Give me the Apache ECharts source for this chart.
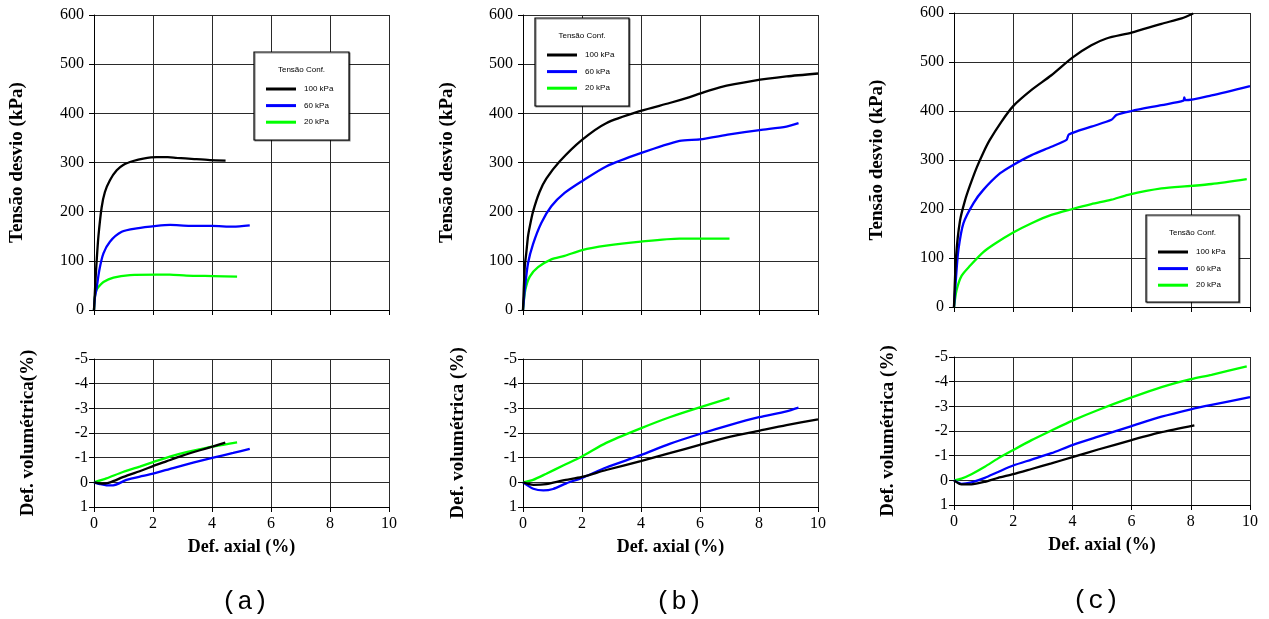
<!DOCTYPE html>
<html>
<head>
<meta charset="utf-8">
<script src="https://cdn.jsdelivr.net/npm/echarts@6/dist/echarts.min.js"></script>
<style>
  html, body { margin: 0; padding: 0; background: #fff; }
  #chart { width: 1269px; height: 619px; }
</style>
</head>
<body>
<div id="chart"></div>
<script>
// Confining pressures (legend entries) and line colours
const pressures = ['100 kPa', '60 kPa', '20 kPa'];
const lineColors = ['#000000', '#0000ff', '#00ff00'];
const panelLabels = ['(a)', '(b)', '(c)'];

// Axis ticks
const axialTicks = [0, 2, 4, 6, 8, 10];
const stressTicks = [0, 100, 200, 300, 400, 500, 600];
const volTicks = [-5, -4, -3, -2, -1, 0, 1];

// Panel (a): [axial strain %, deviator stress kPa]
const a_dev_100 = [[0,0],[0.05,60],[0.09,100],[0.15,150],[0.26,209],[0.37,240],[0.54,264],[0.77,284],[0.99,295],[1.33,303],[1.67,308],[2.12,311],[2.5,311],[2.8,309.5],[3.4,307],[3.93,305],[4.46,304]];
const a_dev_60 = [[0,0],[0.03,25],[0.09,45],[0.18,81],[0.32,115],[0.54,139],[0.94,159],[1.45,166],[2.12,171],[2.58,173],[3.25,171],[4.0,171],[4.72,169.5],[5.28,172]];
const a_dev_20 = [[0,0],[0.03,27],[0.08,40],[0.15,47],[0.32,57],[0.66,66],[1.22,71],[2.12,72],[2.57,72],[3.13,70],[4.04,69],[4.85,68]];
// Panel (a): [axial strain %, volumetric strain %]
const a_vol_100 = [[0,0],[0.3,0.05],[0.55,0],[1.0,-0.22],[1.66,-0.5],[2.0,-0.66],[2.45,-0.85],[3.0,-1.08],[3.59,-1.3],[4.04,-1.46],[4.45,-1.61]];
const a_vol_60 = [[0,0],[0.2,0.07],[0.42,0.12],[0.65,0.12],[1.1,-0.1],[1.66,-0.26],[2.0,-0.35],[2.68,-0.58],[3.36,-0.8],[4.04,-1.0],[4.72,-1.19],[5.28,-1.36]];
const a_vol_20 = [[0,0],[0.42,-0.16],[0.98,-0.42],[1.55,-0.64],[2.0,-0.82],[2.57,-1.04],[3.13,-1.22],[3.81,-1.4],[4.38,-1.52],[4.85,-1.62]];

// Panel (b)
const b_dev_100 = [[0,0],[0.06,88],[0.11,115],[0.17,150],[0.23,170],[0.34,200],[0.56,240],[0.79,267],[1.24,302],[2.0,346],[2.82,380],[3.99,405],[4.97,421],[5.65,433],[5.99,440],[6.67,453],[7.8,466],[8.93,475],[10,481]];
const b_dev_60 = [[0,0],[0.06,41],[0.17,95],[0.34,134],[0.62,177],[0.96,211],[1.41,238],[2.0,262],[2.82,292],[3.99,319],[5.31,344],[5.99,347],[7.0,357],[8.02,366],[8.93,373],[9.34,380]];
const b_dev_20 = [[0,0],[0.08,41],[0.23,68],[0.51,87],[0.96,103],[1.41,110],[2.0,122],[2.82,131],[3.99,139],[5.31,145],[5.99,145],[7.0,145]];
const b_vol_100 = [[0,0],[0.35,0.1],[0.79,0.07],[1.36,-0.08],[2.0,-0.22],[2.82,-0.5],[3.99,-0.86],[4.97,-1.18],[5.99,-1.52],[7.0,-1.84],[8.0,-2.09],[8.93,-2.32],[10,-2.55]];
const b_vol_60 = [[0,0],[0.35,0.26],[0.69,0.33],[1.02,0.27],[1.47,0.04],[2.0,-0.18],[2.82,-0.6],[3.99,-1.1],[4.97,-1.56],[5.99,-1.96],[7.0,-2.32],[8.0,-2.64],[8.93,-2.88],[9.34,-3.03]];
const b_vol_20 = [[0,0],[0.34,-0.1],[0.79,-0.35],[1.36,-0.68],[2.0,-1.05],[2.82,-1.6],[3.99,-2.19],[4.97,-2.64],[5.99,-3.04],[7.0,-3.41]];

// Panel (c)
const c_dev_100 = [[0,0],[0.07,103],[0.2,175],[0.37,217],[0.54,248],[0.77,285],[0.99,315],[1.2,340],[1.6,378],[2.0,410],[2.62,443],[3.29,473],[4.0,509],[4.64,534],[5.15,548],[6.0,560],[7.01,578],[7.69,589],[8.08,599]];
const c_dev_60 = [[0,0],[0.07,62],[0.15,117],[0.32,171],[0.66,212],[0.99,239],[1.56,273],[2.0,290],[2.62,310],[3.29,327],[3.8,341],[3.88,352],[4.64,368],[5.32,382],[5.49,392],[6.0,400],[7.01,412],[7.75,421],[7.78,428],[7.82,422],[8.7,432],[10,451]];
const c_dev_20 = [[0,0],[0.09,35],[0.26,64],[0.54,84],[0.99,112],[1.38,129],[2.0,152],[2.62,171],[3.29,188],[4.0,200],[4.64,210],[5.32,219],[5.88,229],[7.01,242],[8.0,247],[8.7,251],[9.89,261]];
const c_vol_100 = [[0,0],[0.25,0.16],[0.59,0.16],[1.04,0.06],[1.49,-0.1],[2.0,-0.25],[2.62,-0.46],[3.29,-0.69],[4.0,-0.94],[4.87,-1.25],[6.0,-1.63],[7.01,-1.95],[8.12,-2.23]];
const c_vol_60 = [[0,0],[0.25,0.14],[0.59,0.08],[1.04,-0.1],[1.49,-0.34],[2.0,-0.6],[2.62,-0.84],[3.29,-1.1],[4.0,-1.43],[4.87,-1.77],[6.0,-2.2],[7.01,-2.58],[8.0,-2.88],[8.7,-3.06],[10,-3.37]];
const c_vol_20 = [[0,0],[0.25,-0.07],[0.59,-0.25],[1.04,-0.55],[1.49,-0.89],[2.0,-1.23],[2.62,-1.63],[3.29,-2.02],[4.0,-2.42],[4.87,-2.85],[6.0,-3.36],[7.01,-3.78],[8.0,-4.1],[8.7,-4.28],[9.89,-4.62]];

const devSets = [[a_dev_100, a_dev_60, a_dev_20], [b_dev_100, b_dev_60, b_dev_20], [c_dev_100, c_dev_60, c_dev_20]];
const volSets = [[a_vol_100, a_vol_60, a_vol_20], [b_vol_100, b_vol_60, b_vol_20], [c_vol_100, c_vol_60, c_vol_20]];

// Layout of the three panels
const panels = [
  { left: 94,  width: 295, devTop: 15, devH: 295, volTop: 359, volH: 148, devGap: 67, volGap: 56, volName: 'Def. volumétrica(%)',
    legend: { x: 254, y: 52, w: 95, h: 88 }, label: { x: 245, y: 602 } },
  { left: 523, width: 295, devTop: 15, devH: 295, volTop: 359, volH: 148, devGap: 66, volGap: 55, volName: 'Def. volumétrica (%)',
    legend: { x: 535, y: 18, w: 94, h: 88 }, label: { x: 679, y: 602 } },
  { left: 954, width: 296, devTop: 13, devH: 294, volTop: 357, volH: 148, devGap: 67, volGap: 56, volName: 'Def. volumétrica (%)',
    legend: { x: 1146, y: 215, w: 93, h: 87 }, label: { x: 1096, y: 601 } }
];

const serif = 'Liberation Serif';
const sans = 'Liberation Sans';
const gridLine = { show: true, lineStyle: { color: '#2a2a2a', width: 1 } };
const axisLine = { show: true, onZero: false, lineStyle: { color: '#000', width: 1 } };
const yNameStyle = { fontFamily: serif, fontWeight: 'bold', fontSize: 19, color: '#000' };
const xNameStyle = { fontFamily: serif, fontWeight: 'bold', fontSize: 18, color: '#000' };
const tickLabel = { fontFamily: serif, fontSize: 16, color: '#000' };

const grid = [], xAxis = [], yAxis = [], series = [], legend = [], graphic = [];

panels.forEach((p, i) => {
  // deviator stress plot
  grid.push({ left: p.left, top: p.devTop, width: p.width, height: p.devH, containLabel: false });
  // volumetric strain plot
  grid.push({ left: p.left, top: p.volTop, width: p.width, height: p.volH, containLabel: false });

  const gDev = i * 2, gVol = i * 2 + 1;
  const xBase = {
    type: 'value', min: axialTicks[0], max: axialTicks[axialTicks.length - 1],
    interval: axialTicks[1] - axialTicks[0],
    axisLine: axisLine, axisTick: { show: true, length: 5, lineStyle: { color: '#000' } },
    splitLine: gridLine
  };
  xAxis.push(Object.assign({}, xBase, { gridIndex: gDev, axisLabel: { show: false } }));
  xAxis.push(Object.assign({}, xBase, {
    gridIndex: gVol, axisLabel: Object.assign({ margin: 9 }, tickLabel),
    name: 'Def. axial (%)', nameLocation: 'middle', nameGap: 31, nameTextStyle: xNameStyle
  }));

  yAxis.push({
    type: 'value', gridIndex: gDev,
    min: stressTicks[0], max: stressTicks[stressTicks.length - 1], interval: stressTicks[1] - stressTicks[0],
    axisLine: axisLine, axisTick: { show: true, length: 5, lineStyle: { color: '#000' } },
    splitLine: gridLine, axisLabel: Object.assign({ margin: 10 }, tickLabel),
    name: 'Tensão desvio (kPa)', nameLocation: 'middle', nameRotate: 90, nameGap: p.devGap, nameTextStyle: yNameStyle
  });
  yAxis.push({
    type: 'value', gridIndex: gVol, inverse: true,
    min: volTicks[0], max: volTicks[volTicks.length - 1], interval: volTicks[1] - volTicks[0],
    axisLine: axisLine, axisTick: { show: true, length: 5, lineStyle: { color: '#000' } },
    splitLine: gridLine, axisLabel: Object.assign({ margin: 6 }, tickLabel),
    name: p.volName, nameLocation: 'middle', nameRotate: 90, nameGap: p.volGap, nameTextStyle: yNameStyle
  });

  pressures.forEach((name, k) => {
    const common = {
      name: name, type: 'line', symbol: 'none', smooth: 0.25,
      lineStyle: { color: lineColors[k], width: 2.3 }, itemStyle: { color: lineColors[k] },
      emphasis: { disabled: true }, z: 5 - k
    };
    series.push(Object.assign({}, common, { xAxisIndex: gDev, yAxisIndex: gDev, data: devSets[i][k] }));
    series.push(Object.assign({}, common, { xAxisIndex: gVol, yAxisIndex: gVol, data: volSets[i][k] }));
  });

  // legend box with its heading
  const L = p.legend;
  graphic.push({
    type: 'rect', z: 8,
    shape: { x: L.x, y: L.y, width: L.w, height: L.h },
    style: { fill: '#fff', stroke: '#000', lineWidth: 1.2, shadowColor: 'rgba(0,0,0,0.45)', shadowOffsetX: 1, shadowOffsetY: 1, shadowBlur: 0 }
  });
  graphic.push({
    type: 'text', z: 9,
    x: L.x + L.w / 2, y: L.y + 18,
    style: { text: 'Tensão Conf.', font: '8px "' + sans + '"', fill: '#000', align: 'center', verticalAlign: 'middle' }
  });
  legend.push({
    data: pressures, orient: 'vertical', left: L.x + 12, top: L.y + 32,
    icon: 'rect', itemWidth: 30, itemHeight: 3, itemGap: 6.6, padding: 0, z: 10,
    selectedMode: false,
    textStyle: { fontFamily: sans, fontSize: 8, color: '#000', lineHeight: 10, padding: [0, 0, 0, 3] }
  });

  // panel letter
  graphic.push({
    type: 'text', z: 9, x: p.label.x, y: p.label.y,
    style: { text: panelLabels[i], font: '26px "Liberation Mono"', fill: '#000', align: 'center', verticalAlign: 'middle' }
  });
});

const chart = echarts.init(document.getElementById('chart'), null, { renderer: 'canvas' });
chart.setOption({
  animation: false,
  backgroundColor: '#fff',
  grid: grid, xAxis: xAxis, yAxis: yAxis, series: series, legend: legend, graphic: graphic
});
</script>
</body>
</html>
